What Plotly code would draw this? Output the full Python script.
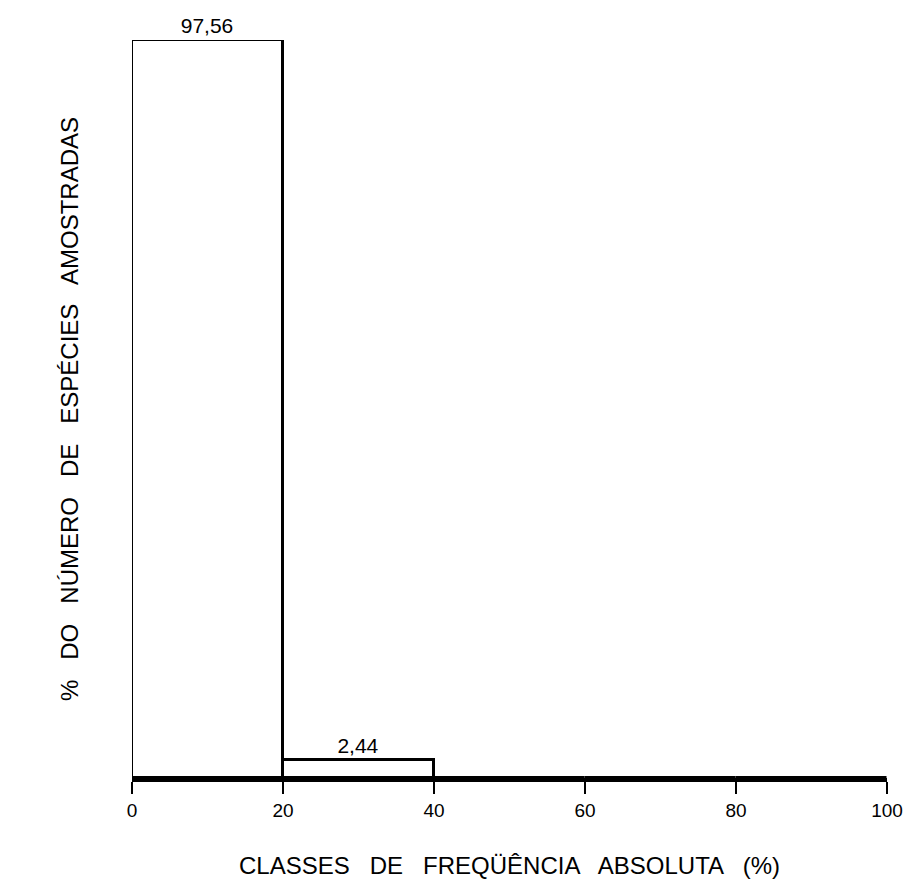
import plotly.graph_objects as go

class_starts = [0, 20, 40, 60, 80]
class_width = 20
percent_species = [97.56, 2.44, 0, 0, 0]
tick_vals = [0, 20, 40, 60, 80, 100]

centers = [s + class_width / 2 for s in class_starts]
labels = [f"{v:.2f}".replace(".", ",") if v > 0 else "" for v in percent_species]

FONT = "Liberation Sans"

fig = go.Figure(go.Bar(
    x=centers, y=percent_species, width=[class_width] * len(centers),
    marker=dict(color="white", line=dict(color="black", width=3)),
    text=labels, textposition="outside",
    textfont=dict(family=FONT, size=21, color="black"),
    cliponaxis=False,
))

# the page body adds an 8px offset; size and margins compensate for it
fig.update_layout(
    width=905, height=881,
    margin=dict(l=124, r=26, t=32, b=111),
    plot_bgcolor="white", paper_bgcolor="white",
    showlegend=False, bargap=0,
    font=dict(family=FONT, color="black"),
)
fig.update_xaxes(
    range=[0, 100], tickvals=tick_vals, ticktext=[str(t) for t in tick_vals],
    showline=True, linecolor="black", linewidth=3.5,
    ticks="outside", ticklen=12, tickwidth=2, tickcolor="black",
    showgrid=False, zeroline=False, automargin=False,
    tickfont=dict(size=19, family=FONT),
    title=dict(text="CLASSES   DE   FREQÜÊNCIA   ABSOLUTA   (%)",
               font=dict(size=24, family=FONT), standoff=39),
)
fig.update_yaxes(
    range=[0, 97.56], showline=False, showticklabels=False, ticks="",
    showgrid=False, zeroline=False, automargin=False,
    title=dict(text="%   DO   NÚMERO   DE   ESPÉCIES   AMOSTRADAS",
               font=dict(size=24, family=FONT), standoff=45),
)

fig.write_html("out.html")
